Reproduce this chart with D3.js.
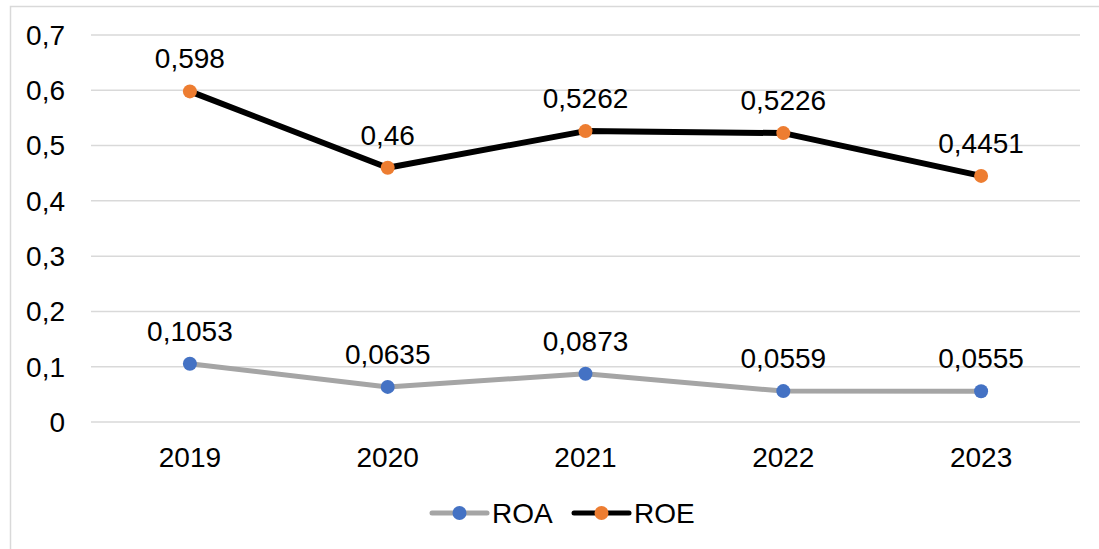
<!DOCTYPE html>
<html>
<head>
<meta charset="utf-8">
<script src="https://cdn.jsdelivr.net/npm/d3@7"></script>
<style>
  * { margin: 0; padding: 0; }
  body { background: #fff; width: 1099px; height: 549px; overflow: hidden; }
  svg { font-family: "Liberation Sans", Arial, sans-serif; }
  .grid line { stroke: #d9d9d9; stroke-width: 1.5; }
  .lbl { font-size: 28px; fill: #000; }
</style>
</head>
<body>
<svg width="1099" height="549"></svg>
<script>
var years = ["2019", "2020", "2021", "2022", "2023"];
var roa = [0.1053, 0.0635, 0.0873, 0.0559, 0.0555];
var roe = [0.598, 0.46, 0.5262, 0.5226, 0.4451];
var yTicks = [0, 0.1, 0.2, 0.3, 0.4, 0.5, 0.6, 0.7];

var series = [
  { name: "ROA", values: roa, line: "#a5a5a5", dot: "#4472c4", width: 5 },
  { name: "ROE", values: roe, line: "#000000", dot: "#ed7d31", width: 6 }
];

var svg = d3.select("svg");
var plotLeft = 91, plotRight = 1080, plotTop = 35, plotBottom = 422;

// chart border
svg.append("rect")
  .attr("x", 10.5).attr("y", 6.5)
  .attr("width", 1100).attr("height", 560)
  .attr("fill", "none").attr("stroke", "#d9d9d9").attr("stroke-width", 1.5);

var x = d3.scaleBand().domain(years).range([plotLeft, plotRight]);
var y = d3.scaleLinear().domain([0, 0.7]).range([plotBottom, plotTop]);
var fmt = function (v) { return String(v).replace(".", ","); };
var cx = function (d, i) { return x(years[i]) + x.bandwidth() / 2; };

// gridlines
svg.append("g").attr("class", "grid")
  .selectAll("line").data(yTicks).enter().append("line")
  .attr("x1", plotLeft).attr("x2", plotRight)
  .attr("y1", function (d) { return y(d); })
  .attr("y2", function (d) { return y(d); });

// y labels
svg.append("g").selectAll("text").data(yTicks).enter().append("text")
  .attr("class", "lbl")
  .attr("x", 65)
  .attr("y", function (d) { return y(d); })
  .attr("dy", "0.35em")
  .attr("text-anchor", "end")
  .text(function (d) { return fmt(+d.toFixed(1)); });

// x labels
svg.append("g").selectAll("text").data(years).enter().append("text")
  .attr("class", "lbl")
  .attr("x", function (d) { return x(d) + x.bandwidth() / 2; })
  .attr("y", 467)
  .attr("text-anchor", "middle")
  .text(function (d) { return d; });

var line = d3.line()
  .x(cx)
  .y(function (d) { return y(d); });

series.forEach(function (s) {
  var g = svg.append("g");
  g.append("path")
    .attr("d", line(s.values))
    .attr("fill", "none")
    .attr("stroke", s.line)
    .attr("stroke-width", s.width)
    .attr("stroke-linejoin", "round");
  g.selectAll("circle").data(s.values).enter().append("circle")
    .attr("cx", cx)
    .attr("cy", function (d) { return y(d); })
    .attr("r", 7)
    .attr("fill", s.dot);
  g.selectAll("text").data(s.values).enter().append("text")
    .attr("class", "lbl")
    .attr("x", cx)
    .attr("y", function (d) { return y(d) - 23; })
    .attr("text-anchor", "middle")
    .text(function (d) { return fmt(d); });
});

// legend
var legX = [432, 574];
series.forEach(function (s, i) {
  var g = svg.append("g").attr("transform", "translate(" + legX[i] + ",513)");
  g.append("line")
    .attr("x1", 0).attr("x2", 55)
    .attr("stroke", s.line).attr("stroke-width", 5)
    .attr("stroke-linecap", "round");
  g.append("circle").attr("cx", 27.5).attr("r", 7).attr("fill", s.dot);
  g.append("text").attr("class", "lbl")
    .attr("x", 60).attr("dy", "0.35em")
    .text(s.name);
});
</script>
</body>
</html>
